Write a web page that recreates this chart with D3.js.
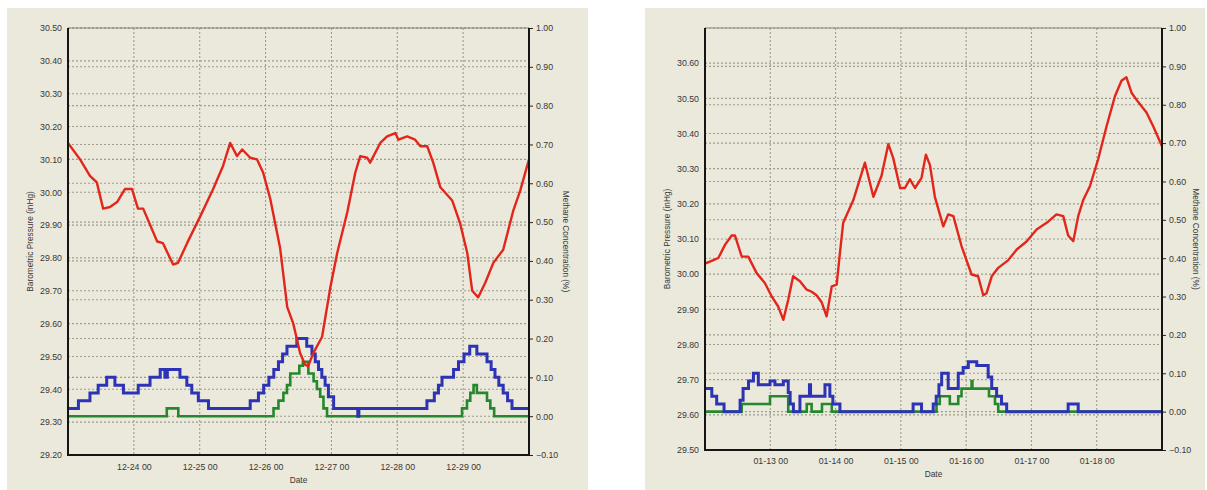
<!DOCTYPE html>
<html>
<head>
<meta charset="utf-8">
<script src="https://cdn.jsdelivr.net/npm/d3@7.9.0/dist/d3.min.js"></script>
<style>
  body { margin: 0; background: #fff; }
  svg { display: block; }
  .tick text { font-family: "Liberation Sans", Arial, sans-serif; font-size: 8.8px; fill: #383838; }
  .title { font-family: "Liberation Sans", Arial, sans-serif; font-size: 8.3px; fill: #383838; }
</style>
</head>
<body>
<svg id="chart" width="1207" height="490"></svg>
<script>
// ---- data: hours after the first midnight of each chart ----
const leftStart = new Date(2010, 11, 23, 0);
const rightStart = new Date(2011, 0, 12, 0);

const leftPressureHours = [0, 4.4, 8, 10.5, 12.8, 15.3, 17.9, 20.8, 23.3, 25.5, 27.4, 32.5, 34.6, 38.3, 40.1, 43.4, 48.1, 52.9, 56.5, 59.1, 61.6, 63.5, 66.4, 68.9, 71.1, 73.7, 77.3, 79.9, 82.1, 84.6, 86.4, 87.5, 89.4, 92.6, 95.6, 98.1, 101.8, 104.7, 106.5, 109, 110.1, 113.8, 116.3, 119.3, 120.4, 123.6, 126.5, 128.4, 130.9, 133.1, 135.7, 140, 142.9, 145.5, 147.3, 149.5, 152.1, 155, 158.6, 162.3, 164.8, 168];
const leftPressure = [30.15, 30.10, 30.05, 30.03, 29.95, 29.955, 29.97, 30.01, 30.01, 29.95, 29.95, 29.85, 29.845, 29.78, 29.785, 29.845, 29.925, 30.01, 30.08, 30.15, 30.11, 30.13, 30.105, 30.10, 30.06, 29.98, 29.83, 29.65, 29.60, 29.51, 29.475, 29.47, 29.51, 29.56, 29.71, 29.815, 29.94, 30.06, 30.11, 30.105, 30.09, 30.15, 30.17, 30.18, 30.16, 30.17, 30.16, 30.14, 30.14, 30.09, 30.015, 29.975, 29.905, 29.815, 29.70, 29.68, 29.725, 29.785, 29.825, 29.945, 30.005, 30.10];

const leftBlueHours = [0, 3.8, 8, 11, 14.1, 17.1, 20.2, 25.6, 29.9, 33.6, 35.3, 36.2, 40.8, 43.3, 45.1, 47.5, 51.2, 66.4, 69.4, 71.3, 73.2, 75, 76.7, 78.2, 79.8, 83.4, 87, 88.9, 90.1, 91.3, 92.5, 93.7, 94.9, 96.8, 105.6, 106, 130.8, 133.5, 135, 136.3, 140.5, 142.3, 144.3, 146.4, 149, 152.7, 154.2, 155.6, 157, 158.6, 160.2, 161.8, 168];
const leftBlue = [0.02, 0.04, 0.06, 0.08, 0.10, 0.08, 0.06, 0.08, 0.10, 0.12, 0.10, 0.12, 0.10, 0.08, 0.06, 0.04, 0.02, 0.04, 0.06, 0.08, 0.10, 0.12, 0.14, 0.16, 0.18, 0.20, 0.18, 0.16, 0.14, 0.12, 0.10, 0.08, 0.05, 0.02, 0.00, 0.02, 0.04, 0.06, 0.08, 0.10, 0.12, 0.14, 0.16, 0.18, 0.16, 0.14, 0.12, 0.10, 0.08, 0.06, 0.04, 0.02, 0.02];

const leftGreenHours = [0, 36, 40.2, 74.9, 76.7, 78.5, 79.8, 81, 84.3, 85.6, 87.6, 89.5, 90.7, 91.9, 93.1, 94.4, 143.6, 145.4, 146.6, 147.8, 149, 152.7, 153.9, 155.3, 168];
const leftGreen = [0.00, 0.02, 0.00, 0.02, 0.04, 0.06, 0.08, 0.11, 0.13, 0.14, 0.11, 0.09, 0.07, 0.05, 0.02, 0.00, 0.02, 0.04, 0.06, 0.08, 0.06, 0.04, 0.02, 0.00, 0.00];

const rightPressureHours = [0, 3.1, 4.9, 7.4, 9.8, 11, 13.5, 15.9, 19, 22, 24.5, 26.9, 28.8, 30.6, 32.4, 34.9, 37.4, 39.2, 41, 42.9, 44.7, 46.6, 48.4, 49.6, 50.8, 54.5, 58.8, 61.9, 64.9, 67.4, 69.2, 71.7, 73.5, 75.3, 77.2, 79.6, 81.2, 82.7, 84.5, 87.6, 89.4, 91.3, 94.3, 98, 100.4, 102.3, 103.5, 105.4, 107.8, 111.5, 114.6, 118.2, 121.9, 125.6, 129.2, 131.7, 133.5, 135.4, 137.2, 139, 141.5, 144.5, 147.6, 150.7, 153.1, 154.9, 156.8, 159.2, 162.3, 164.8, 168];
const rightPressure = [30.03, 30.04, 30.046, 30.084, 30.11, 30.11, 30.05, 30.05, 30.003, 29.975, 29.937, 29.908, 29.87, 29.927, 29.994, 29.98, 29.956, 29.95, 29.94, 29.92, 29.88, 29.965, 29.97, 30.06, 30.146, 30.21, 30.317, 30.22, 30.28, 30.37, 30.33, 30.245, 30.245, 30.27, 30.245, 30.274, 30.34, 30.31, 30.22, 30.136, 30.17, 30.165, 30.08, 29.999, 29.994, 29.94, 29.946, 29.994, 30.018, 30.04, 30.07, 30.093, 30.127, 30.146, 30.17, 30.165, 30.11, 30.094, 30.165, 30.21, 30.25, 30.326, 30.42, 30.506, 30.55, 30.56, 30.516, 30.49, 30.46, 30.42, 30.364];

const rightBlueHours = [0, 2.5, 4.3, 7, 12.9, 14, 16, 17.8, 19.6, 23.9, 25.7, 28.8, 30.6, 31.3, 32.5, 34.9, 38.4, 38.8, 44.1, 45.9, 47, 47.6, 49.6, 76.5, 79.6, 83.9, 85, 86, 87, 89.4, 93.1, 94.9, 96.8, 99.9, 104.1, 105.4, 107.2, 109, 110.9, 133.5, 137.2, 168];
const rightBlue = [0.06, 0.04, 0.02, 0.00, 0.03, 0.06, 0.08, 0.10, 0.07, 0.08, 0.07, 0.08, 0.05, 0.02, 0.00, 0.04, 0.07, 0.04, 0.07, 0.04, 0.02, 0.02, 0.00, 0.02, 0.00, 0.02, 0.04, 0.07, 0.10, 0.06, 0.10, 0.115, 0.13, 0.12, 0.09, 0.06, 0.04, 0.02, 0.00, 0.02, 0.00, 0.00];

const rightGreenHours = [0, 13.5, 23.9, 30.6, 37.4, 39.2, 43, 46.6, 85.1, 86.3, 90, 93.1, 94.3, 98, 98.3, 104.4, 106.6, 107.8, 168];
const rightGreen = [0.00, 0.02, 0.04, 0.00, 0.02, 0.00, 0.02, 0.00, 0.02, 0.04, 0.02, 0.04, 0.06, 0.08, 0.06, 0.04, 0.02, 0.00, 0.00];

const leftPressureTicks = [29.2, 29.3, 29.4, 29.5, 29.6, 29.7, 29.8, 29.9, 30.0, 30.1, 30.2, 30.3, 30.4, 30.5];
const rightPressureTicks = [29.5, 29.6, 29.7, 29.8, 29.9, 30.0, 30.1, 30.2, 30.3, 30.4, 30.5, 30.6];
const methaneTicks = [-0.1, 0, 0.1, 0.2, 0.3, 0.4, 0.5, 0.6, 0.7, 0.8, 0.9, 1.0];

const colors = { red: '#e3261c', blue: '#2c33b4', green: '#26882d' };

const svg = d3.select('#chart');
const hour = 3600 * 1000;

function drawChart(cfg) {
  const g = svg.append('g');

  g.append('rect')
    .attr('x', cfg.panel[0]).attr('y', cfg.panel[1])
    .attr('width', cfg.panel[2]).attr('height', cfg.panel[3])
    .attr('fill', '#ebe9db');

  const x = d3.scaleTime()
    .domain([cfg.start, new Date(+cfg.start + 168 * hour)])
    .range([cfg.x0, cfg.x1]);
  const yP = d3.scaleLinear().domain(cfg.pDomain).range([cfg.y1, cfg.y0]);
  const yM = d3.scaleLinear().domain([-0.1, 1.0]).range([cfg.y1, cfg.y0]);

  const dayTicks = d3.timeDay.range(new Date(+cfg.start + 1), x.domain()[1]);

  // grid lines
  const grid = g.append('g').attr('stroke', '#9f9c8c').attr('stroke-width', 1.1)
    .attr('stroke-dasharray', '2,2');
  grid.selectAll('.vg').data(dayTicks).join('line')
    .attr('x1', d => x(d)).attr('x2', d => x(d))
    .attr('y1', cfg.y0).attr('y2', cfg.y1);
  grid.selectAll('.hp').data(cfg.pTicks).join('line')
    .attr('x1', cfg.x0).attr('x2', cfg.x1)
    .attr('y1', d => yP(d)).attr('y2', d => yP(d));
  grid.selectAll('.hm').data(methaneTicks).join('line')
    .attr('x1', cfg.x0).attr('x2', cfg.x1)
    .attr('y1', d => yM(d)).attr('y2', d => yM(d));

  // series
  const toPts = (hrs, vals) => hrs.map((h, i) => [new Date(+cfg.start + h * hour), vals[i]]);
  const stepLine = d3.line().x(d => x(d[0])).y(d => yM(d[1])).curve(d3.curveStepAfter);
  const pLine = d3.line().x(d => x(d[0])).y(d => yP(d[1]));

  g.append('path').datum(toPts(cfg.greenH, cfg.green))
    .attr('d', stepLine).attr('fill', 'none')
    .attr('stroke', colors.green).attr('stroke-width', 2.6);
  g.append('path').datum(toPts(cfg.blueH, cfg.blue))
    .attr('d', stepLine).attr('fill', 'none')
    .attr('stroke', colors.blue).attr('stroke-width', 3);
  g.append('path').datum(toPts(cfg.pH, cfg.p))
    .attr('d', pLine).attr('fill', 'none')
    .attr('stroke', colors.red).attr('stroke-width', 2.4).attr('stroke-linejoin', 'round');

  // axes
  const axL = g.append('g').attr('transform', `translate(${cfg.x0},0)`)
    .call(d3.axisLeft(yP).tickValues(cfg.pTicks).tickSize(0).tickPadding(6).tickFormat(d3.format('.2f')));
  const axR = g.append('g').attr('transform', `translate(${cfg.x1},0)`)
    .call(d3.axisRight(yM).tickValues(methaneTicks).tickSize(4).tickPadding(3).tickFormat(d3.format('.2f')));
  const axB = g.append('g').attr('transform', `translate(0,${cfg.y1})`)
    .call(d3.axisBottom(x).tickValues(dayTicks).tickSize(0).tickPadding(cfg.xPad)
      .tickFormat(d3.timeFormat('%m-%d %H')));
  [axL, axR, axB].forEach(a => a.select('.domain').remove());
  axR.selectAll('.tick line').attr('stroke', '#222');

  // frame
  g.append('line').attr('x1', cfg.x0).attr('x2', cfg.x1).attr('y1', cfg.y0).attr('y2', cfg.y0)
    .attr('stroke', '#8a8778').attr('stroke-width', 1);
  g.append('path')
    .attr('d', `M${cfg.x0},${cfg.y0}V${cfg.y1}H${cfg.x1}V${cfg.y0}`)
    .attr('fill', 'none').attr('stroke', '#151515').attr('stroke-width', 2);

  // titles
  const midY = (cfg.y0 + cfg.y1) / 2;
  g.append('text').attr('class', 'title')
    .attr('transform', `translate(${cfg.leftTitleX},${midY}) rotate(-90)`)
    .attr('text-anchor', 'middle').attr('dy', '0.35em')
    .text('Barometric Pressure (inHg)');
  g.append('text').attr('class', 'title')
    .attr('transform', `translate(${cfg.rightTitleX},${midY}) rotate(90)`)
    .attr('text-anchor', 'middle').attr('dy', '0.35em')
    .text('Methane Concentration (%)');
  g.append('text').attr('class', 'title')
    .attr('x', (cfg.x0 + cfg.x1) / 2).attr('y', cfg.y1 + cfg.dateDy)
    .attr('text-anchor', 'middle')
    .text('Date');
}

drawChart({
  panel: [7, 8, 581, 482], x0: 68, x1: 529, y0: 28, y1: 455,
  start: leftStart, pDomain: [29.2, 30.5], pTicks: leftPressureTicks,
  pH: leftPressureHours, p: leftPressure,
  blueH: leftBlueHours, blue: leftBlue,
  greenH: leftGreenHours, green: leftGreen,
  xPad: 9, dateDy: 28, leftTitleX: 30, rightTitleX: 566
});

drawChart({
  panel: [645, 8, 560, 482], x0: 705, x1: 1162, y0: 28, y1: 450,
  start: rightStart, pDomain: [29.5, 30.7], pTicks: rightPressureTicks,
  pH: rightPressureHours, p: rightPressure,
  blueH: rightBlueHours, blue: rightBlue,
  greenH: rightGreenHours, green: rightGreen,
  xPad: 8, dateDy: 27, leftTitleX: 667, rightTitleX: 1196
});
</script>
</body>
</html>
